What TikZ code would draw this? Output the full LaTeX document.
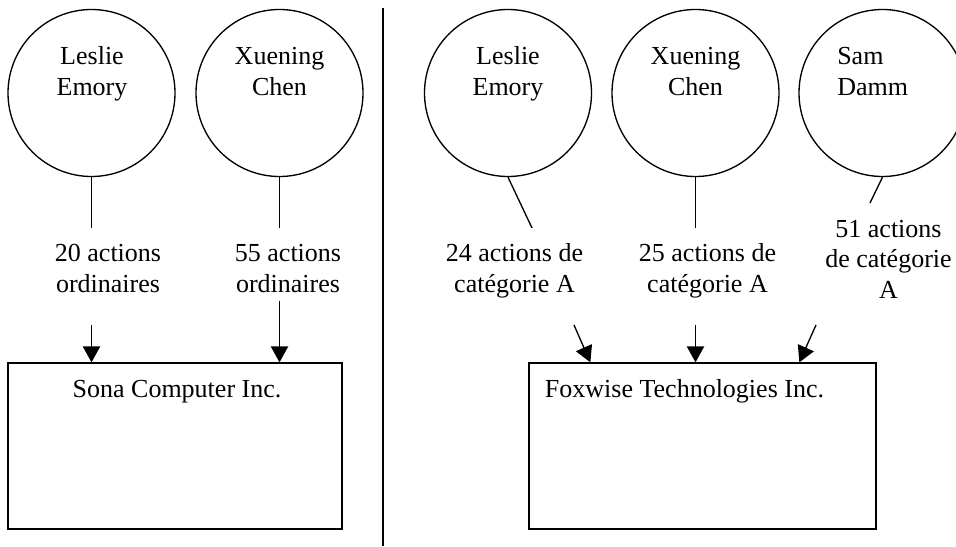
\documentclass[tikz,border=0pt]{standalone}
\usepackage{fontspec}
\setmainfont{Liberation Serif}
\usetikzlibrary{arrows.meta}

\tikzset{
  person/.style={draw, circle, line width=1pt, minimum size=125.25pt, inner sep=0pt},
  firm/.style={draw, rectangle, line width=1pt, inner sep=0pt, minimum height=124.5pt},
  txt/.style={font=\fontsize{19.5pt}{22.8pt}\selectfont, align=center, inner sep=0pt, anchor=base},
  ln/.style={line width=1pt},
  arr/.style={line width=1pt, -{Triangle[length=12pt,width=13pt]}},
}

\begin{document}
\begin{tikzpicture}[x=0.75pt,y=0.75pt,yscale=-1,xscale=1]
\useasboundingbox (0,0) rectangle (956,546);
%Shape: Circle [people, left]
\node[person] (les1) at (91.5,93) {};
\node[person] (xue1) at (279.5,93) {};
%Shape: Circle [people, right]
\node[person] (les2) at (508,93) {};
\node[person] (xue2) at (695.5,93) {};
\node[person] (sam) at (882.5,93) {};
%Shape: Rectangle [firms]
\node[firm, minimum width=250.5pt] (sona) at (175,446) {};
\node[firm, minimum width=260.25pt] (fox) at (702.5,446) {};
% Text Node (base = last line)
\node[txt] (les1t) at (92,95) {Leslie\\Emory};
\node[txt] (xue1t) at (279.5,95) {Xuening\\Chen};
\node[txt] (les2t) at (508,95) {Leslie\\Emory};
\node[txt] (xue2t) at (695.5,95) {Xuening\\Chen};
\node[txt, align=left, anchor=base west] (samt) at (837,95) {Sam\\Damm};
% Text Node
\node[txt] (sh1) at (108,292) {20 actions\\ordinaires};
\node[txt] (sh2) at (288,292) {55 actions\\ordinaires};
\node[txt] (sh3) at (514.5,292) {24 actions de\\catégorie A};
\node[txt] (sh4) at (707.5,292) {25 actions de\\catégorie A};
\node[txt] (sh5) at (888.5,298) {51 actions\\de catégorie\\A};
% Text Node
\node[txt] (sonat) at (177,397) {Sona Computer Inc.};
\node[txt] (foxt) at (684.5,397) {Foxwise Technologies Inc.};
% line ends
\coordinate (e1) at (91.5,228);
\coordinate (e2) at (279.5,228);
\coordinate (e3) at (532,228);
\coordinate (e4) at (695.5,228);
\coordinate (e5) at (870,203);
\coordinate (s1) at (91.5,325);
\coordinate (s2) at (279.5,301);
\coordinate (s3) at (574,325);
\coordinate (s4) at (695.5,325);
\coordinate (s5) at (816,325);
%Straight Lines [holders]
\draw[ln] (les1.south) -- (e1);
\draw[ln] (xue1.south) -- (e2);
\draw[ln] (les2.south) -- (e3);
\draw[ln] (xue2.south) -- (e4);
\draw[ln] (sam.south) -- (e5);
%Straight Lines [shares]
\draw[arr] (s1) -- (s1 |- sona.north);
\draw[arr] (s2) -- (s2 |- sona.north);
\draw[arr] (s3) -- ([xshift=46.5pt]fox.north west);
\draw[arr] (s4) -- (s4 |- fox.north);
\draw[arr] (s5) -- ([xshift=203.25pt]fox.north west);
%Straight Lines [divider]
\draw[ln] (383,8) -- (383,546);
\end{tikzpicture}
\end{document}
